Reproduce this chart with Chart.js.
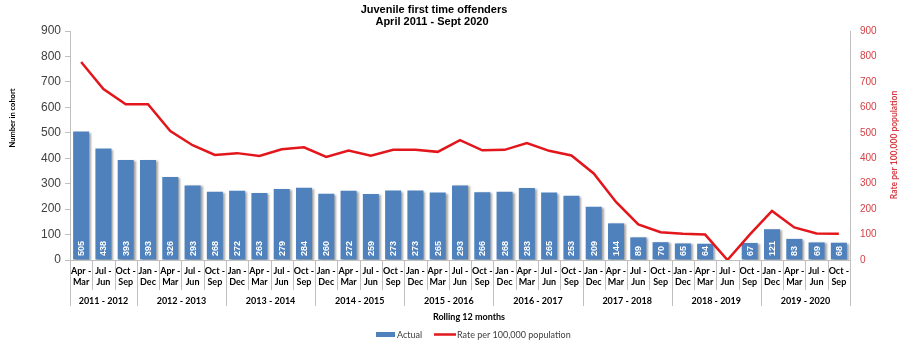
<!DOCTYPE html>
<html>
<head>
<meta charset="utf-8">
<script src="https://cdn.jsdelivr.net/npm/chart.js@4.4.0/dist/chart.umd.min.js"></script>
<style>
  html, body { margin: 0; padding: 0; background: #ffffff; }
  #wrap { width: 899px; height: 343px; position: relative; }
</style>
</head>
<body>
<div id="wrap"><canvas id="c" width="899" height="343"></canvas></div>
<script>
// Rolling 12-month periods (first and last month of each window)
const periodStarts = ['Apr','Jul','Oct',
  'Jan','Apr','Jul','Oct', 'Jan','Apr','Jul','Oct', 'Jan','Apr','Jul','Oct',
  'Jan','Apr','Jul','Oct', 'Jan','Apr','Jul','Oct', 'Jan','Apr','Jul','Oct',
  'Jan','Apr','Jul','Oct', 'Jan','Apr','Jul','Oct'];
const periodEnds = ['Mar','Jun','Sep',
  'Dec','Mar','Jun','Sep', 'Dec','Mar','Jun','Sep', 'Dec','Mar','Jun','Sep',
  'Dec','Mar','Jun','Sep', 'Dec','Mar','Jun','Sep', 'Dec','Mar','Jun','Sep',
  'Dec','Mar','Jun','Sep', 'Dec','Mar','Jun','Sep'];

// Financial-year groups under the period labels
const fiscalYears = ['2011 - 2012','2012 - 2013','2013 - 2014','2014 - 2015','2015 - 2016',
  '2016 - 2017','2017 - 2018','2018 - 2019','2019 - 2020'];
const periodsPerYear = [3, 4, 4, 4, 4, 4, 4, 4, 4];

// Number of juvenile first time offenders in each cohort
const actual = [505, 438, 393,
  393, 326, 293, 268,
  272, 263, 279, 284,
  260, 272, 259, 273,
  273, 265, 293, 266,
  268, 283, 265, 253,
  209, 144, 89, 70,
  65, 64, null, 67,
  121, 83, 69, 68];

// Rate per 100,000 population
const ratePer100k = [778, 672, 612,
  612, 507, 451, 413,
  420, 409, 435, 443,
  405, 430, 410, 433,
  433, 425, 471, 431,
  433, 460, 429, 411,
  340, 228, 140, 109,
  103, 100, 0, 100,
  193, 128, 104, 103];

const axisTicks = [0, 100, 200, 300, 400, 500, 600, 700, 800, 900];

const BAR_BLUE = '#4F81BD';
const LINE_RED = '#E2161B';
const RATE_TEXT = '#D64045';
const AXIS_GREY = '#BFBFBF';
const LABEL_FONT = 'Lato, "Liberation Sans", sans-serif';
const TICK_FONT = '"Liberation Sans", Arial, sans-serif';

// Soft drop shadow behind the bars
const barShadow = {
  id: 'barShadow',
  beforeDatasetDraw(chart, args) {
    if (args.meta.type !== 'bar') return;
    const ctx = chart.ctx;
    ctx.save();
    ctx.shadowColor = 'rgba(0,0,0,0.35)';
    ctx.shadowBlur = 2;
    ctx.shadowOffsetX = 2;
    ctx.shadowOffsetY = 1;
  },
  afterDatasetDraw(chart, args) {
    if (args.meta.type !== 'bar') return;
    chart.ctx.restore();
  }
};

// Vertical value labels at the foot of each bar
const barValues = {
  id: 'barValues',
  afterDatasetsDraw(chart) {
    const ctx = chart.ctx;
    const bottom = chart.chartArea.bottom;
    chart.data.datasets.forEach((ds, di) => {
      const meta = chart.getDatasetMeta(di);
      if (meta.type !== 'bar') return;
      meta.data.forEach((el, i) => {
        const v = ds.data[i];
        if (v === null || v === undefined) return;
        ctx.save();
        ctx.translate(el.x, bottom - 4);
        ctx.rotate(-Math.PI / 2);
        ctx.fillStyle = '#ffffff';
        ctx.font = 'bold 9px ' + TICK_FONT;
        ctx.textAlign = 'left';
        ctx.textBaseline = 'middle';
        ctx.fillText(String(v), 0, 0.5);
        ctx.restore();
      });
    });
  }
};

// Titles, period separators, year groups and legend
const decorations = {
  id: 'decorations',
  afterDraw(chart) {
    const ctx = chart.ctx;
    const area = chart.chartArea;
    const xs = chart.scales.x;
    const n = chart.data.labels.length;
    const base = area.bottom;

    ctx.save();
    // chart title
    ctx.fillStyle = '#000000';
    ctx.font = 'bold 11px ' + TICK_FONT;
    ctx.textAlign = 'center';
    ctx.textBaseline = 'middle';
    ctx.fillText('Juvenile first time offenders', 434, 10);
    ctx.fillText('April 2011 - Sept 2020', 432, 22);

    // separators between periods
    ctx.strokeStyle = AXIS_GREY;
    ctx.lineWidth = 1;
    for (let i = 0; i <= n; i++) {
      const x = Math.round(xs.getPixelForValue(i - 0.5)) + 0.5;
      ctx.beginPath();
      ctx.moveTo(x, base);
      ctx.lineTo(x, base + 30);
      ctx.stroke();
    }
    // year groups
    let start = 0;
    ctx.font = 'bold 9px ' + LABEL_FONT;
    ctx.fillStyle = '#000000';
    const x0 = Math.round(xs.getPixelForValue(-0.5)) + 0.5;
    ctx.beginPath();
    ctx.moveTo(x0, base);
    ctx.lineTo(x0, base + 46);
    ctx.stroke();
    fiscalYears.forEach((fy, g) => {
      const end = start + periodsPerYear[g];
      const xl = xs.getPixelForValue(start - 0.5);
      const xr = xs.getPixelForValue(end - 0.5);
      const xe = Math.round(xr) + 0.5;
      ctx.beginPath();
      ctx.moveTo(xe, base);
      ctx.lineTo(xe, base + 46);
      ctx.stroke();
      ctx.fillText(fy, (xl + xr) / 2, base + 41);
      start = end;
    });

    // x axis title
    ctx.fillText('Rolling 12 months', 469, 317);

    // y axis titles
    ctx.save();
    ctx.translate(13, 118);
    ctx.rotate(-Math.PI / 2);
    ctx.font = 'bold 7.5px ' + LABEL_FONT;
    ctx.fillStyle = '#000000';
    ctx.fillText('Number in cohort', 0, 0);
    ctx.restore();

    ctx.save();
    ctx.translate(894, 145);
    ctx.rotate(-Math.PI / 2);
    ctx.font = 'bold 8.5px ' + LABEL_FONT;
    ctx.fillStyle = RATE_TEXT;
    ctx.fillText('Rate per 100,000 population', 0, 0);
    ctx.restore();

    // legend
    const barDs = chart.data.datasets.find(d => d.type === 'bar');
    const lineDs = chart.data.datasets.find(d => d.type === 'line');
    ctx.font = '9px ' + LABEL_FONT;
    ctx.textAlign = 'left';
    ctx.fillStyle = BAR_BLUE;
    ctx.fillRect(376, 332, 19, 5);
    ctx.fillStyle = '#404040';
    ctx.fillText(barDs.label, 397, 335);
    ctx.strokeStyle = LINE_RED;
    ctx.lineWidth = 2.5;
    ctx.beginPath();
    ctx.moveTo(434, 334.5);
    ctx.lineTo(456, 334.5);
    ctx.stroke();
    ctx.fillText(lineDs.label, 457, 335);
    ctx.restore();
  }
};

new Chart(document.getElementById('c'), {
  data: {
    labels: periodStarts.map((s, i) => [s + ' -', periodEnds[i]]),
    datasets: [
      {
        type: 'line',
        label: 'Rate per 100,000 population',
        data: ratePer100k,
        yAxisID: 'yRate',
        borderColor: LINE_RED,
        borderWidth: 2.5,
        pointRadius: 0,
        tension: 0,
        order: 0
      },
      {
        type: 'bar',
        label: 'Actual',
        data: actual,
        yAxisID: 'y',
        backgroundColor: BAR_BLUE,
        barPercentage: 0.72,
        categoryPercentage: 1,
        order: 1
      }
    ]
  },
  options: {
    responsive: false,
    animation: false,
    layout: { padding: { top: 31, left: 0, right: 0, bottom: 0 } },
    plugins: {
      legend: { display: false },
      title: { display: false },
      tooltip: { enabled: false }
    },
    scales: {
      x: {
        offset: true,
        grid: { display: true, drawOnChartArea: false, drawTicks: false, color: 'rgba(0,0,0,0)' },
        border: { display: true, color: AXIS_GREY },
        ticks: {
          autoSkip: false, maxRotation: 0, minRotation: 0, padding: 6,
          color: '#000000',
          font: { family: LABEL_FONT, weight: 'bold', size: 9, lineHeight: 1.2 }
        },
        afterFit(s) { s.height = 83; }
      },
      y: {
        position: 'left',
        min: 0, max: 900,
        afterBuildTicks(s) { s.ticks = axisTicks.map(v => ({ value: v })); },
        ticks: { color: '#404040', padding: 4, font: { family: TICK_FONT, size: 12 } },
        grid: { drawOnChartArea: false, tickLength: 5, color: AXIS_GREY },
        border: { color: AXIS_GREY },
        afterFit(s) { s.width = 70; }
      },
      yRate: {
        position: 'right',
        min: 0, max: 900,
        afterBuildTicks(s) { s.ticks = axisTicks.map(v => ({ value: v })); },
        ticks: { color: RATE_TEXT, padding: 10, font: { family: TICK_FONT, size: 10 } },
        grid: { drawOnChartArea: false, drawTicks: false },
        border: { color: AXIS_GREY },
        afterFit(s) { s.width = 49; }
      }
    }
  },
  plugins: [barShadow, barValues, decorations]
});
</script>
</body>
</html>
